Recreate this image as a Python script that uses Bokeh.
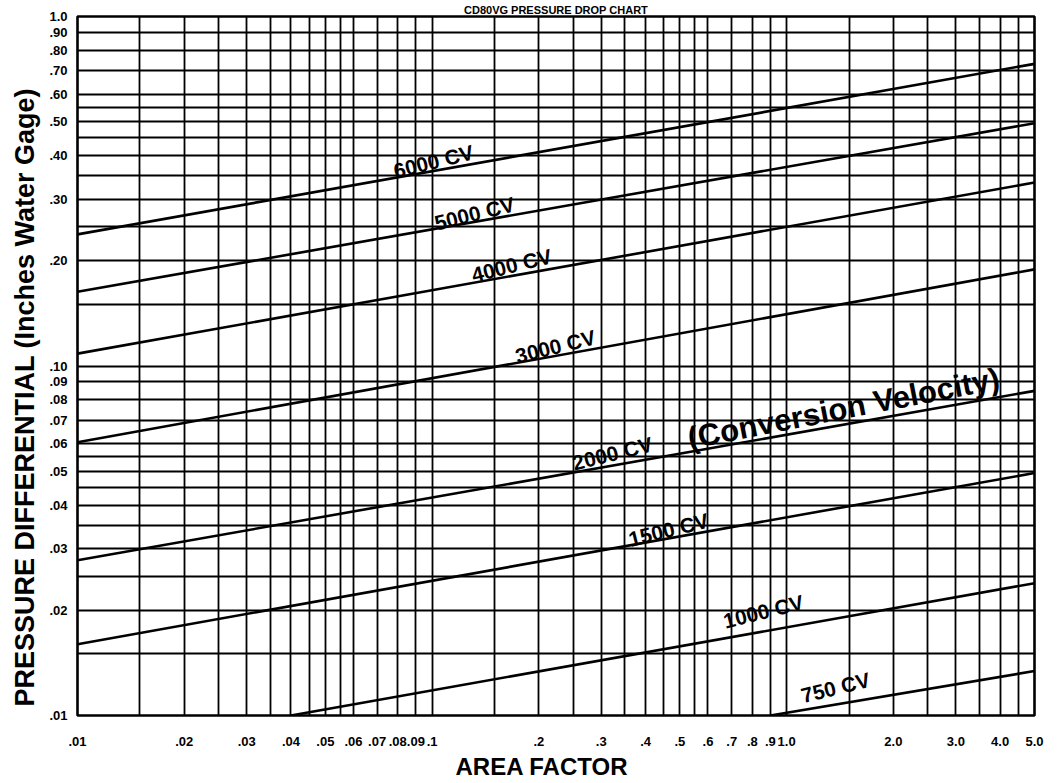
import math
from bokeh.plotting import figure
from bokeh.models import FixedTicker, Range1d, Title
from bokeh.core.properties import value
from bokeh.embed import file_html
from bokeh.resources import INLINE

# ---------------- data ----------------
area_ticks = [0.01, 0.02, 0.03, 0.04, 0.05, 0.06, 0.07, 0.08, 0.09, 0.1,
              0.2, 0.3, 0.4, 0.5, 0.6, 0.7, 0.8, 0.9, 1.0, 2.0, 3.0, 4.0, 5.0]
area_tick_labels = [".01", ".02", ".03", ".04", ".05", ".06", ".07", ".08", ".09", ".1",
                    ".2", ".3", ".4", ".5", ".6", ".7", ".8", ".9", "1.0", "2.0", "3.0", "4.0", "5.0"]
dp_ticks = [0.01, 0.02, 0.03, 0.04, 0.05, 0.06, 0.07, 0.08, 0.09, 0.1,
            0.2, 0.3, 0.4, 0.5, 0.6, 0.7, 0.8, 0.9, 1.0]
dp_tick_labels = [".01", ".02", ".03", ".04", ".05", ".06", ".07", ".08", ".09", ".10",
                  ".20", ".30", ".40", ".50", ".60", ".70", ".80", ".90", "1.0"]

area_grid = [0.015, 0.02, 0.025, 0.03, 0.035, 0.04, 0.045, 0.05, 0.055, 0.06, 0.07, 0.08, 0.09, 0.1,
             0.15, 0.2, 0.25, 0.3, 0.35, 0.4, 0.45, 0.5, 0.55, 0.6, 0.7, 0.8, 0.9, 1.0,
             1.5, 2.0, 2.5, 3.0, 3.5, 4.0, 4.5]
dp_grid = [0.015, 0.02, 0.025, 0.03, 0.035, 0.04, 0.045, 0.05, 0.055, 0.06, 0.07, 0.08, 0.09, 0.1,
           0.15, 0.2, 0.25, 0.3, 0.35, 0.4, 0.45, 0.5, 0.55, 0.6, 0.7, 0.8, 0.9]

cv_names = ["6000 CV", "5000 CV", "4000 CV", "3000 CV", "2000 CV", "1500 CV", "1000 CV", "750 CV"]
cv_start_area = [0.01, 0.01, 0.01, 0.01, 0.01, 0.01, 0.04, 0.9]
cv_start_dp = [0.238, 0.163, 0.1085, 0.0605, 0.0278, 0.0160, 0.01, 0.01]
cv_end_area = [5.0, 5.0, 5.0, 5.0, 5.0, 5.0, 5.0, 5.0]
cv_end_dp = [0.732, 0.495, 0.335, 0.189, 0.0849, 0.0494, 0.0239, 0.0134]

# label anchor points (centres) along the curves
cv_label_area = [0.1009, 0.1317, 0.1675, 0.2228, 0.3226, 0.4642, 0.860, 1.373]
cv_label_dp = [0.3847, 0.273, 0.194, 0.1137, 0.0562, 0.0340, 0.01984, 0.01202]
note_text = "(Conversion Velocity)"
note_area = 1.446
note_dp = 0.0756

title_text = "CD80VG PRESSURE DROP CHART"
x_title = "AREA FACTOR"
y_title = "PRESSURE DIFFERENTIAL (Inches Water Gage)"

FONT = "Liberation Sans"

p = figure(frame_width=957, frame_height=699,
           x_axis_type="log", y_axis_type="log",
           x_range=Range1d(0.01, 5.0), y_range=Range1d(0.01, 1.0),
           output_backend="svg", toolbar_location=None,
           min_border_left=77, min_border_right=26, min_border_top=15, min_border_bottom=68,
           title=title_text)
p.background_fill_color = "white"
p.border_fill_color = "white"
p.outline_line_color = "black"
p.outline_line_width = 2.6

p.title.align = "center"
p.title.text_font = FONT
p.title.text_font_style = "bold"
p.title.text_font_size = "11px"
p.title.text_color = "black"
p.title.standoff = 2

# grid
p.xgrid.ticker = FixedTicker(ticks=area_grid, minor_ticks=[])
p.ygrid.ticker = FixedTicker(ticks=dp_grid, minor_ticks=[])
for g in (p.xgrid, p.ygrid):
    g.grid_line_color = "black"
    g.grid_line_width = 1.8
    g.grid_line_alpha = 1.0

# axes
p.xaxis.ticker = FixedTicker(ticks=area_ticks, minor_ticks=[])
p.yaxis.ticker = FixedTicker(ticks=dp_ticks, minor_ticks=[])
p.xaxis.major_label_overrides = {t: l for t, l in zip(area_ticks, area_tick_labels)}
p.yaxis.major_label_overrides = {t: l for t, l in zip(dp_ticks, dp_tick_labels)}
for ax in (p.xaxis, p.yaxis):
    ax.axis_line_color = None
    ax.major_tick_line_color = None
    ax.minor_tick_line_color = None
    ax.major_tick_out = 0
    ax.major_tick_in = 0
    ax.major_label_text_font = FONT
    ax.major_label_text_font_style = "bold"
    ax.major_label_text_font_size = "13px"
    ax.major_label_text_color = "black"
p.xaxis.major_label_standoff = 21
p.yaxis.major_label_standoff = 10

# axis titles as side titles (placed as in the original)
p.add_layout(Title(text=x_title, align="left", offset=378, standoff=5,
                   text_font=FONT, text_font_style="bold", text_font_size="24px",
                   text_color="black"), "below")
p.add_layout(Title(text=y_title, align="left", offset=9, standoff=14,
                   text_font=FONT, text_font_style="bold", text_font_size="27px",
                   text_color="black"), "left")

# CV lines
p.segment(x0=cv_start_area, y0=cv_start_dp, x1=cv_end_area, y1=cv_end_dp,
          line_color="black", line_width=2.6)

# labels on the lines
p.text(x=cv_label_area, y=cv_label_dp, text=cv_names,
       angle=math.radians(14), text_font=value(FONT), text_font_style="bold",
       text_font_size="21px", text_align="center", text_baseline="middle", text_color="black")
p.text(x=[note_area], y=[note_dp], text=[note_text],
       angle=math.radians(11), text_font=value(FONT), text_font_style="bold",
       text_font_size="31px", text_align="center", text_baseline="middle", text_color="black")

open("out.html", "w").write(file_html(p, INLINE))
